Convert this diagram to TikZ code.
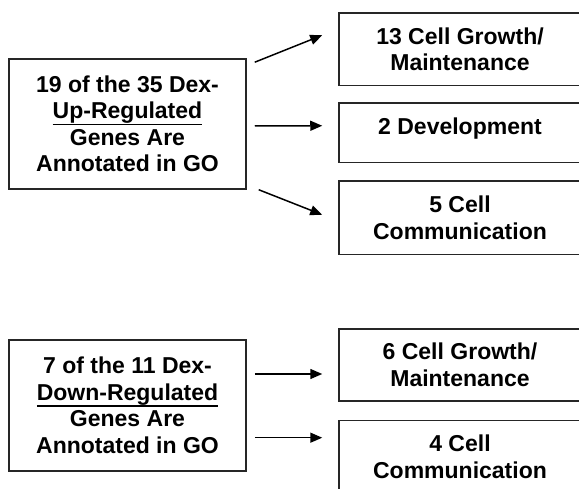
\documentclass[tikz,border=0pt]{standalone}
\usepackage{fontspec}
\setmainfont{Liberation Sans}
\usetikzlibrary{arrows.meta}
\newcommand{\uline}[1]{\setbox0\hbox{#1}\rlap{\rule[-6.5pt]{\wd0}{1.7pt}}\box0}

\begin{document}
\begin{tikzpicture}[x=1pt,y=1pt,
        box/.style={
          draw=black!85,line width=1.5pt,align=center,inner sep=0pt,
          font=\bfseries\fontsize{23}{26.5}\selectfont
        },
        leftbox/.style={box,minimum width=237pt,minimum height=130pt},
        rightbox/.style={box,minimum width=242pt},
        arr/.style={
          line width=1.5pt,-{Triangle[length=12pt,width=10pt]}
        }
      ]
      \fill [white] (0,0) rectangle (579,489);
      \clip (0,0) rectangle (579,489);
      \node [leftbox] (up) at (127.5,365) {19 of the 35 Dex-\\\uline{Up-Regulated}\\Genes Are\\Annotated in GO};
      \node [rightbox,minimum height=72.5pt] (grow1) at (460,439.75) {13 Cell Growth/\\Maintenance};
      \node [rightbox,minimum height=59.5pt,text height=16pt,text depth=12.5pt] (devel) at (460,356.25) {2 Development};
      \node [rightbox,minimum height=73.5pt] (comm1) at (460,271.25) {5 Cell\\Communication};
      \draw [arr] ([xshift=8,yshift=-4]up.north east) -- ([xshift=-16,yshift=14]grow1.west);
      \draw [arr] ([xshift=8,yshift=-2]up.east) -- ([xshift=-16,yshift=7]devel.west);
      \draw [arr] ([xshift=12]up.south east) -- ([xshift=-16,yshift=3]comm1.west);
      \node [leftbox,minimum height=131pt] (down) at (127.5,83.5) {7 of the 11 Dex-\\\uline{Down-Regulated}\\Genes Are\\Annotated in GO};
      \node [rightbox,minimum height=72pt] (grow2) at (460,124) {6 Cell Growth/\\Maintenance};
      \node [rightbox,minimum height=73pt] (comm2) at (460,32) {4 Cell\\Communication};
      \draw [arr] ([xshift=8,yshift=31.5]down.east) -- ([xshift=-16,yshift=-9]grow2.west);
      \draw [arr] ([xshift=8,yshift=-32.2]down.east) -- ([xshift=-16,yshift=19.3]comm2.west);
    \end{tikzpicture}
\end{document}
